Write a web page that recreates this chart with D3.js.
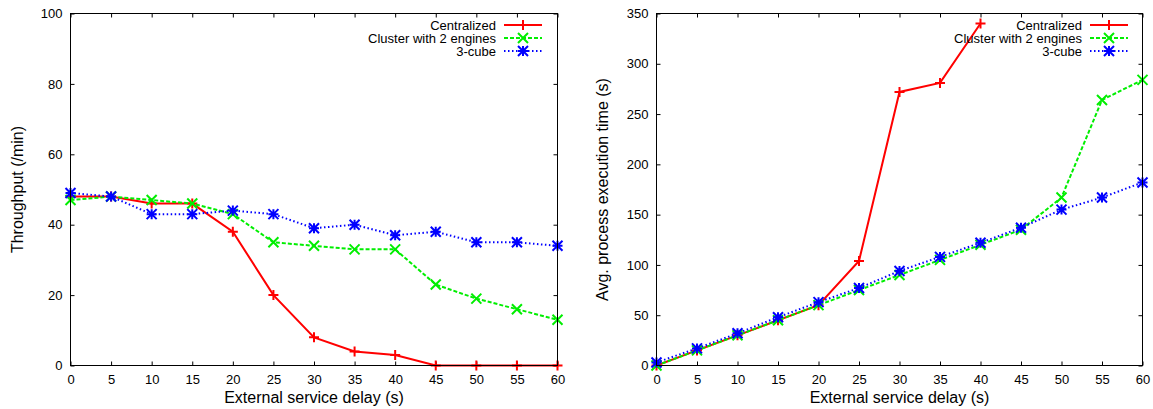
<!DOCTYPE html>
<html>
<head>
<meta charset="utf-8">
<script src="https://cdn.jsdelivr.net/npm/d3@7"></script>
<style>
  body { margin: 0; background: #fff; }
  svg text { font-family: "Liberation Sans", Arial, sans-serif; fill: #000; }
</style>
</head>
<body>
<svg id="chart" width="1153" height="409"></svg>
<script>
"use strict";

// delays on the x axis
const delays = [0, 5, 10, 15, 20, 25, 30, 35, 40, 45, 50, 55, 60];
const seriesNames = ["Centralized", "Cluster with 2 engines", "3-cube"];

// left panel: throughput
const throughputCentral = [48, 48, 46, 46, 38, 20, 8, 4, 3, 0, 0, 0, 0];
const throughputCluster = [47, 48, 47, 46, 43, 35, 34, 33, 33, 23, 19, 16, 13];
const throughputCube = [49, 48, 43, 43, 44, 43, 39, 40, 37, 38, 35, 35, 34];

// right panel: avg execution time (centralized stops at 40)
const execCentral = [0, 15, 30, 45, 60, 104, 272, 281, 340];
const execCluster = [0, 15, 30, 45, 60, 75, 90, 105, 120, 135, 167, 264, 284];
const execCube = [3, 17, 32, 48, 63, 77, 94, 108, 122, 137, 155, 167, 182];

const leftTicks = [0, 20, 40, 60, 80, 100];
const rightTicks = [0, 50, 100, 150, 200, 250, 300, 350];

const styles = [
    {color: "#ff0000", dash: null, marker: "plus"},
    {color: "#00ee00", dash: "4,2", marker: "cross"},
    {color: "#0000ff", dash: "1.5,2.5", marker: "star"}
];

const svg = d3.select("#chart");

function markerPath(type, s) {
    const p = d3.path();
    if (type === "plus" || type === "star") {
        p.moveTo(-s, 0); p.lineTo(s, 0);
        p.moveTo(0, -s); p.lineTo(0, s);
    }
    if (type === "cross" || type === "star") {
        p.moveTo(-s, -s); p.lineTo(s, s);
        p.moveTo(-s, s); p.lineTo(s, -s);
    }
    return p.toString();
}

function drawPanel(opt) {
    const g = svg.append("g");
    const x = d3.scaleLinear().domain([0, 60]).range([opt.left, opt.right]);
    const y = d3.scaleLinear().domain([0, opt.ymax]).range([opt.bottom, opt.top]);
    const tick = 4;

    // axes, gnuplot style: ticks point inward and are mirrored
    g.append("g")
        .attr("transform", "translate(0," + opt.bottom + ")")
        .call(d3.axisBottom(x).tickValues(delays).tickSize(-tick).tickPadding(9));
    g.append("g")
        .attr("transform", "translate(0," + opt.top + ")")
        .call(d3.axisTop(x).tickValues(delays).tickSize(-tick).tickFormat(""));
    g.append("g")
        .attr("transform", "translate(" + opt.left + ",0)")
        .call(d3.axisLeft(y).tickValues(opt.ticks).tickSize(-tick).tickPadding(8));
    g.append("g")
        .attr("transform", "translate(" + opt.right + ",0)")
        .call(d3.axisRight(y).tickValues(opt.ticks).tickSize(-tick).tickFormat(""));
    g.selectAll(".domain").remove();
    g.selectAll(".tick line").attr("stroke", "#000");
    g.selectAll(".tick text").style("font-size", "13px");

    // titles
    g.append("text")
        .attr("x", (opt.left + opt.right) / 2).attr("y", 403)
        .attr("text-anchor", "middle").style("font-size", "16px")
        .text("External service delay (s)");
    g.append("text")
        .attr("transform", "translate(" + opt.ytitleX + "," + (opt.top + opt.bottom) / 2 + ") rotate(-90)")
        .attr("text-anchor", "middle").style("font-size", "16px")
        .text(opt.ytitle);

    const line = d3.line().x((d, i) => x(delays[i])).y(d => y(d));

    opt.series.forEach((vals, k) => {
        const st = styles[k];
        g.append("path")
            .datum(vals)
            .attr("d", line)
            .attr("fill", "none")
            .attr("stroke", st.color)
            .attr("stroke-width", 2)
            .attr("stroke-dasharray", st.dash);
        g.selectAll(".m" + k)
            .data(vals)
            .enter()
            .append("path")
            .attr("transform", (d, i) => "translate(" + x(delays[i]) + "," + y(d) + ")")
            .attr("d", markerPath(st.marker, 5))
            .attr("fill", "none")
            .attr("stroke", st.color)
            .attr("stroke-width", 2);
    });

    // frame drawn over the data, like gnuplot's border
    g.append("rect")
        .attr("x", opt.left).attr("y", opt.top)
        .attr("width", opt.right - opt.left).attr("height", opt.bottom - opt.top)
        .attr("fill", "none").attr("stroke", "#000").attr("stroke-width", 1);

    // legend
    seriesNames.forEach((name, k) => {
        const st = styles[k];
        const ly = 25 + k * 13;
        g.append("text")
            .attr("x", opt.legendX).attr("y", ly + 5)
            .attr("text-anchor", "end").style("font-size", "13px")
            .text(name);
        g.append("path")
            .attr("d", "M" + (opt.legendX + 8) + "," + ly + "H" + (opt.legendX + 46))
            .attr("stroke", st.color).attr("stroke-width", 2)
            .attr("stroke-dasharray", st.dash);
        g.append("path")
            .attr("transform", "translate(" + (opt.legendX + 27) + "," + ly + ")")
            .attr("d", markerPath(st.marker, 5))
            .attr("fill", "none").attr("stroke", st.color).attr("stroke-width", 2);
    });
}

drawPanel({
    left: 70.5, right: 557.5, top: 13.5, bottom: 365.5, ymax: 100, ticks: leftTicks,
    ytitle: "Throughput (/min)", ytitleX: 23, legendX: 496,
    series: [throughputCentral, throughputCluster, throughputCube]
});

drawPanel({
    left: 656.5, right: 1142.5, top: 13.5, bottom: 365.5, ymax: 350, ticks: rightTicks,
    ytitle: "Avg. process execution time (s)", ytitleX: 608, legendX: 1082,
    series: [execCentral, execCluster, execCube]
});
</script>
</body>
</html>
